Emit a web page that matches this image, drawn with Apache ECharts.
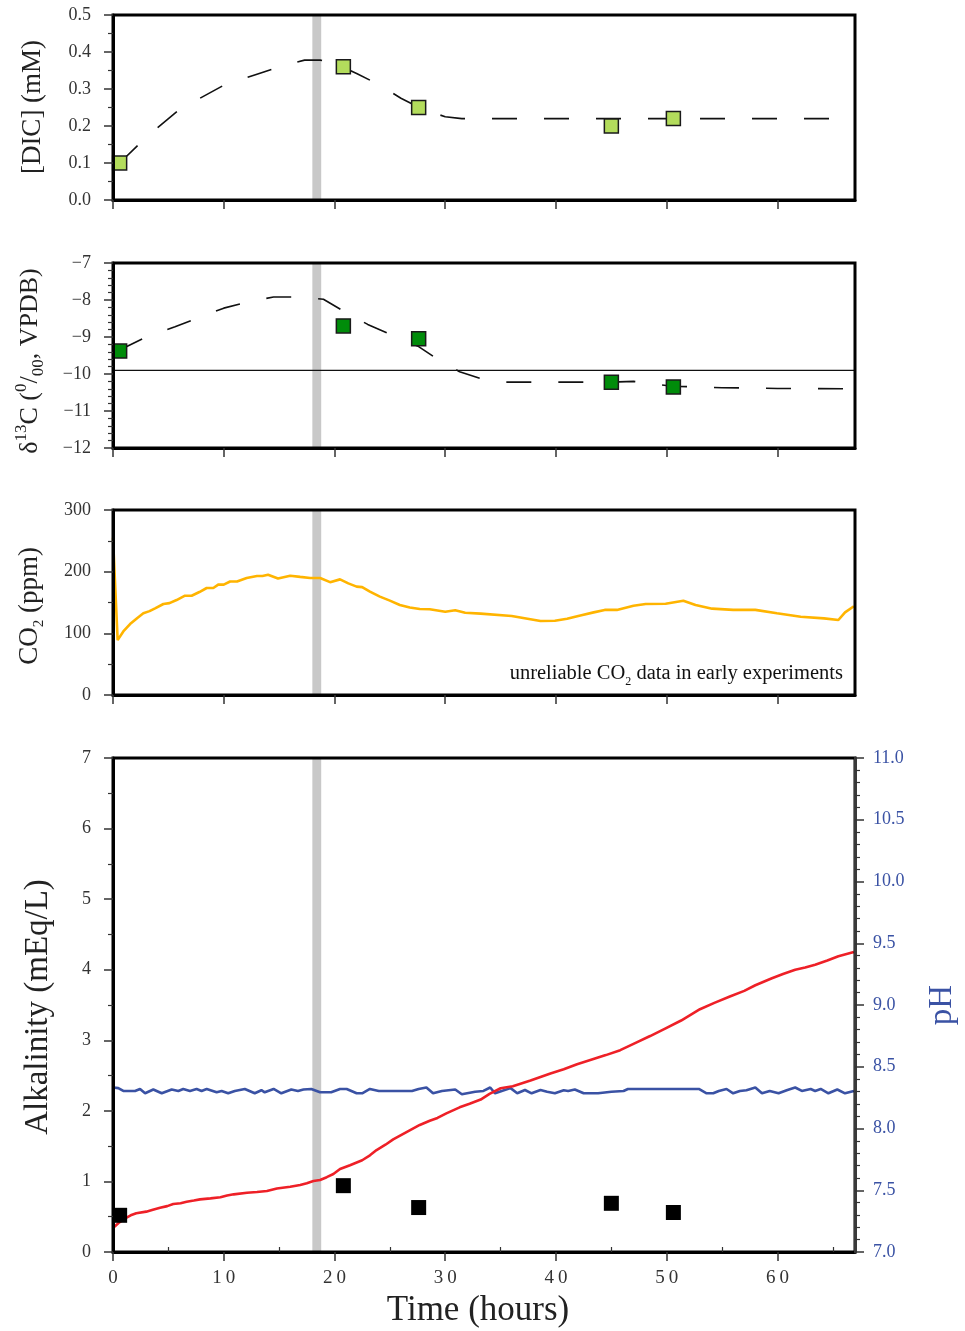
<!DOCTYPE html>
<html>
<head>
<meta charset="utf-8">
<script src="https://cdn.jsdelivr.net/npm/echarts@6/dist/echarts.min.js"></script>
<style>
  html, body { margin: 0; padding: 0; background: #ffffff; }
  #chart { width: 965px; height: 1331px; }
</style>
</head>
<body>
<div id="chart"></div>
<script>
// ---- Time axis ----
const xTicks = [0, 10, 20, 30, 40, 50, 60];
const xMinorTicks = [5, 15, 25, 35, 45, 55, 65];
const timeMax = 67;
const bandHours = [18.0, 18.8];   // shaded interval (hours)

// ---- Discrete samples (hours) ----
const sampleHours = [0.6, 20.8, 27.6, 45.0, 50.6];
const dicSamples = [0.10, 0.36, 0.25, 0.20, 0.22];            // mM
const d13cSamples = [-9.38, -8.70, -9.05, -10.22, -10.35];    // per mil VPDB
const alkSamples = [0.52, 0.94, 0.63, 0.69, 0.56];            // mEq/L

// ---- Model curves [hour, value] ----
const dicModel = [
  [0.6, 0.10], [3, 0.17], [6, 0.245], [10, 0.31], [13, 0.34], [15, 0.36],
  [17.3, 0.378], [18.7, 0.378], [20, 0.37], [22, 0.342], [24, 0.312],
  [26, 0.275], [28, 0.245], [30, 0.225], [31.5, 0.22], [66, 0.22]
];
const d13cModel = [
  [0.6, -9.35], [3, -9.0], [5.6, -8.72], [7.8, -8.47], [10, -8.22], [12.2, -8.05],
  [14.5, -7.92], [17, -7.92], [19, -7.98], [21, -8.33], [23, -8.66], [25.2, -8.95],
  [27.6, -9.26], [29.2, -9.58], [31.3, -9.94], [33.5, -10.15], [35.5, -10.22],
  [45, -10.22], [47, -10.2], [50.5, -10.33], [55, -10.37], [60, -10.39], [66, -10.4]
];
const d13cReference = -9.9;

// ---- Continuous CO2 record [hour, ppm] ----
const co2Record = [
  [0, 255], [0.42, 89], [0.93, 103], [1.54, 115], [2.2, 125], [2.74, 132.5], [3.3, 136],
  [3.8, 140.5], [4.55, 147.6], [5.1, 149], [5.74, 154], [6.5, 161], [7.1, 161], [7.8, 167],
  [8.46, 173.5], [9.06, 173.5], [9.5, 179], [10.0, 179], [10.57, 184], [11.2, 184],
  [12.07, 189.7], [13.0, 193], [13.5, 193], [14.0, 195], [14.9, 189], [16.0, 193.5],
  [16.9, 191.5], [17.8, 189.7], [18.7, 189.7], [19.6, 183], [20.5, 187.5], [21.25, 181],
  [22.0, 175.7], [22.5, 175], [23.2, 167.5], [24.1, 159.5], [25.0, 153], [25.9, 146],
  [26.8, 142], [27.7, 139.5], [28.6, 139], [30.0, 135], [30.9, 137.3], [31.8, 133.5],
  [33.2, 132], [36.0, 128], [38.6, 120], [39.9, 120.5], [41.0, 123.6], [42.2, 129],
  [43.4, 134], [44.4, 138], [45.5, 138], [47.0, 144.8], [48.1, 147.6], [49.9, 148],
  [51.5, 152.9], [52.6, 146], [54.1, 140], [56.0, 138], [58.0, 138], [59.95, 132.5],
  [62.1, 127], [64.2, 124.3], [65.5, 121.6], [66.1, 134], [66.9, 144]
];

// ---- Continuous alkalinity record [hour, mEq/L] ----
const alkRecord = [
  [0, 0.34], [0.5, 0.41], [1.1, 0.477], [1.6, 0.52], [2.1, 0.548], [3.0, 0.572], [3.6, 0.6],
  [4.25, 0.628], [4.9, 0.65], [5.44, 0.68], [6.1, 0.69], [6.65, 0.713], [7.3, 0.73],
  [7.86, 0.746], [8.8, 0.76], [9.7, 0.775], [10.3, 0.8], [10.9, 0.817], [12.1, 0.84],
  [13.0, 0.85], [13.9, 0.864], [14.8, 0.9], [16.0, 0.925], [16.9, 0.95], [17.5, 0.975],
  [18.1, 1.006], [18.7, 1.02], [19.3, 1.06], [19.9, 1.105], [20.5, 1.176], [21.4, 1.23],
  [22.5, 1.30], [23.2, 1.37], [23.8, 1.445], [24.6, 1.52], [25.3, 1.596], [26.5, 1.70],
  [27.7, 1.8], [28.6, 1.86], [29.3, 1.9], [30.1, 1.965], [31.3, 2.05], [32.2, 2.1],
  [33.2, 2.16], [34.0, 2.24], [35.0, 2.32], [36.1, 2.35], [37.7, 2.43], [38.6, 2.48],
  [39.5, 2.53], [40.7, 2.59], [41.9, 2.66], [43.1, 2.72], [44.5, 2.79], [45.8, 2.86],
  [47.0, 2.95], [48.5, 3.06], [49.9, 3.17], [51.3, 3.28], [53.0, 3.44], [54.3, 3.53],
  [55.7, 3.62], [57.0, 3.7], [58.0, 3.78], [59.5, 3.88], [60.5, 3.94], [61.6, 4.0],
  [62.5, 4.03], [63.4, 4.07], [64.5, 4.13], [65.5, 4.19], [66.9, 4.25]
];

// ---- Continuous pH record [hour, pH] ----
const phRecord = [
  [0.03, 8.332], [0.48, 8.327], [0.93, 8.304], [1.99, 8.304], [2.44, 8.32], [2.9, 8.285],
  [3.64, 8.316], [4.4, 8.285], [5.3, 8.316], [5.9, 8.304], [6.34, 8.32], [6.95, 8.304],
  [7.55, 8.32], [8.0, 8.304], [8.46, 8.32], [9.36, 8.293], [9.81, 8.304], [10.4, 8.285],
  [11.0, 8.304], [11.9, 8.32], [12.8, 8.285], [13.4, 8.31], [13.7, 8.293], [14.5, 8.32],
  [15.2, 8.285], [16.1, 8.316], [16.7, 8.304], [17.2, 8.316], [17.9, 8.32], [18.7, 8.293],
  [19.7, 8.293], [20.5, 8.32], [21.1, 8.32], [22.0, 8.285], [22.5, 8.285], [23.2, 8.32],
  [24.0, 8.304], [27.0, 8.304], [27.6, 8.32], [28.3, 8.332], [28.9, 8.285], [29.7, 8.304],
  [30.9, 8.316], [31.5, 8.277], [32.7, 8.298], [33.45, 8.304], [34.06, 8.332], [34.5, 8.285],
  [35.1, 8.304], [35.9, 8.327], [36.5, 8.285], [37.2, 8.312], [37.8, 8.285], [38.6, 8.312],
  [39.2, 8.298], [39.9, 8.285], [40.7, 8.31], [41.1, 8.304], [41.7, 8.316], [42.5, 8.285],
  [43.8, 8.285], [45.0, 8.298], [46.1, 8.304], [46.5, 8.32], [52.9, 8.32], [53.6, 8.285],
  [54.2, 8.285], [54.7, 8.304], [55.4, 8.32], [56.0, 8.285], [56.6, 8.304], [57.2, 8.31],
  [58.0, 8.332], [58.6, 8.285], [59.3, 8.304], [60.1, 8.285], [60.9, 8.312], [61.6, 8.332],
  [62.2, 8.304], [63.0, 8.32], [63.4, 8.304], [63.9, 8.32], [64.6, 8.285], [65.4, 8.316],
  [66.1, 8.285], [66.9, 8.304]
];

// ---- Styling ----
const SERIF = '"Liberation Serif", "DejaVu Serif", serif';
const INK = '#222222';
const TICK = '#333333';
const PH_BLUE = '#3a52a4';

const zip = (xs, ys) => xs.map((x, i) => [x, ys[i]]);
const minus = v => (v < 0 ? '\u2212' + Math.abs(v) : String(v));
const spaced = v => String(v).split('').join('\u2009');

const panels = [
  { top: 15, height: 185 },
  { top: 263, height: 185 },
  { top: 510, height: 185 },
  { top: 758, height: 494 }
];

const grid = panels.map(p => ({
  left: 113, width: 742, top: p.top, height: p.height,
  show: true, borderColor: '#000', borderWidth: 3,
  backgroundColor: 'transparent', z: 6
}));

function timeAxis(gridIndex, withLabels) {
  return {
    gridIndex, type: 'value', min: 0, max: timeMax, position: 'bottom', z: 6,
    axisLine: { show: true, onZero: false, lineStyle: { color: '#000', width: 3 } },
    axisTick: { show: true, customValues: xTicks, length: 9, lineStyle: { color: TICK, width: 1.5 } },
    axisLabel: {
      show: withLabels, customValues: xTicks, margin: 17, formatter: spaced,
      fontFamily: SERIF, fontSize: 19, color: TICK
    },
    splitLine: { show: false }
  };
}

function valueAxis(gridIndex, min, max, interval, minorSplit, formatter, extra) {
  return Object.assign({
    gridIndex, type: 'value', min, max, interval, position: 'left', z: 6,
    axisLine: { show: true, onZero: false, lineStyle: { color: '#000', width: 3 } },
    axisTick: { show: true, length: 9, lineStyle: { color: TICK, width: 1.5 } },
    minorTick: { show: true, splitNumber: minorSplit, length: 5, lineStyle: { color: TICK, width: 1.2 } },
    axisLabel: { margin: 22, formatter, fontFamily: SERIF, fontSize: 18, color: TICK },
    splitLine: { show: false }, minorSplitLine: { show: false }
  }, extra || {});
}

const xAxis = [
  timeAxis(0, false), timeAxis(1, false), timeAxis(2, false), timeAxis(3, true),
  {
    gridIndex: 3, type: 'value', min: 0, max: timeMax, position: 'bottom', z: 6,
    axisLine: { show: false },
    axisTick: { show: true, inside: true, customValues: xMinorTicks, length: 5, lineStyle: { color: TICK, width: 1.2 } },
    axisLabel: { show: false }, splitLine: { show: false }
  }
];

const yAxis = [
  valueAxis(0, 0, 0.5, 0.1, 2, v => v.toFixed(1)),
  valueAxis(1, -12, -7, 1, 5, minus),
  valueAxis(2, 0, 300, 100, 2, v => String(v)),
  valueAxis(3, 0, 7, 1, 2, v => String(v)),
  valueAxis(3, 7, 11, 0.5, 5, v => v.toFixed(1), {
    position: 'right', z: 7,
    axisLine: { show: true, onZero: false, lineStyle: { color: '#3a3a3a', width: 3 } },
    axisLabel: { margin: 18, formatter: v => v.toFixed(1), fontFamily: SERIF, fontSize: 18, color: PH_BLUE }
  })
];

const band = {
  silent: true,
  itemStyle: { color: '#c8c8c8' },
  data: [[{ xAxis: bandHours[0] }, { xAxis: bandHours[1] }]]
};

const dashed = { color: '#111', width: 1.6, type: [25, 27] };

const series = [
  // Panel 1: DIC
  { type: 'line', xAxisIndex: 0, yAxisIndex: 0, data: dicModel, showSymbol: false,
    lineStyle: dashed, z: 2, markArea: band },
  { type: 'scatter', xAxisIndex: 0, yAxisIndex: 0, data: zip(sampleHours, dicSamples),
    symbol: 'rect', symbolSize: 14, z: 4,
    itemStyle: { color: '#b3dc5c', borderColor: '#1a1a1a', borderWidth: 1.5, opacity: 1 } },

  // Panel 2: d13C
  { type: 'line', xAxisIndex: 1, yAxisIndex: 1, data: [[0, d13cReference], [timeMax, d13cReference]],
    showSymbol: false, lineStyle: { color: '#111', width: 1.3 }, z: 2, markArea: band },
  { type: 'line', xAxisIndex: 1, yAxisIndex: 1, data: d13cModel, showSymbol: false,
    lineStyle: dashed, z: 2 },
  { type: 'scatter', xAxisIndex: 1, yAxisIndex: 1, data: zip(sampleHours, d13cSamples),
    symbol: 'rect', symbolSize: 14, z: 4,
    itemStyle: { color: '#008c0a', borderColor: '#1a1a1a', borderWidth: 1.5, opacity: 1 } },

  // Panel 3: CO2
  { type: 'line', xAxisIndex: 2, yAxisIndex: 2, data: co2Record, showSymbol: false,
    lineStyle: { color: '#ffb400', width: 2.6 }, z: 3, markArea: band },

  // Panel 4: alkalinity and pH
  { type: 'line', xAxisIndex: 3, yAxisIndex: 4, data: phRecord, showSymbol: false,
    lineStyle: { color: PH_BLUE, width: 2.6 }, z: 3, markArea: band },
  { type: 'line', xAxisIndex: 3, yAxisIndex: 3, data: alkRecord, showSymbol: false,
    lineStyle: { color: '#ee2027', width: 2.6 }, z: 3 },
  { type: 'scatter', xAxisIndex: 3, yAxisIndex: 3, data: zip(sampleHours, alkSamples),
    symbol: 'rect', symbolSize: 15, z: 4, itemStyle: { color: '#000', opacity: 1 } }
];

const titleFont = { fontFamily: SERIF, fill: INK, align: 'center', verticalAlign: 'middle' };

const graphic = [
  { type: 'text', x: 33, y: 107, rotation: Math.PI / 2,
    style: Object.assign({ text: '[DIC] (mM)', fontSize: 27 }, titleFont) },
  { type: 'text', x: 30, y: 361, rotation: Math.PI / 2,
    style: Object.assign({
      text: 'δ{sup|13}C ({sup|0}/{sub|00}, VPDB)', fontSize: 26, lineHeight: 34,
      rich: {
        sup: { fontFamily: SERIF, fontSize: 17, fill: INK, verticalAlign: 'top', lineHeight: 34 },
        sub: { fontFamily: SERIF, fontSize: 17, fill: INK, verticalAlign: 'bottom', lineHeight: 34 }
      }
    }, titleFont) },
  { type: 'text', x: 30, y: 606, rotation: Math.PI / 2,
    style: Object.assign({
      text: 'CO{sub|2} (ppm)', fontSize: 27, lineHeight: 34,
      rich: { sub: { fontFamily: SERIF, fontSize: 15, fill: INK, verticalAlign: 'bottom', lineHeight: 34 } }
    }, titleFont) },
  { type: 'text', x: 843, y: 674,
    style: {
      text: 'unreliable CO{sub|2} data in early experiments', fontFamily: SERIF, fontSize: 20.5,
      fill: '#111', align: 'right', verticalAlign: 'middle', lineHeight: 28,
      rich: { sub: { fontFamily: SERIF, fontSize: 12, fill: '#111', verticalAlign: 'bottom', lineHeight: 28 } }
    } },
  { type: 'text', x: 38, y: 1007, rotation: Math.PI / 2,
    style: Object.assign({ text: 'Alkalinity (mEq/L)', fontSize: 33 }, titleFont) },
  { type: 'text', x: 942, y: 1005, rotation: Math.PI / 2,
    style: Object.assign({}, titleFont, { text: 'pH', fontSize: 33, fill: PH_BLUE }) },
  { type: 'text', x: 478, y: 1311,
    style: Object.assign({ text: 'Time (hours)', fontSize: 35 }, titleFont) }
];

const chart = echarts.init(document.getElementById('chart'), null, { renderer: 'canvas' });
chart.setOption({
  animation: false,
  backgroundColor: '#ffffff',
  grid, xAxis, yAxis, series, graphic
});
</script>
</body>
</html>
